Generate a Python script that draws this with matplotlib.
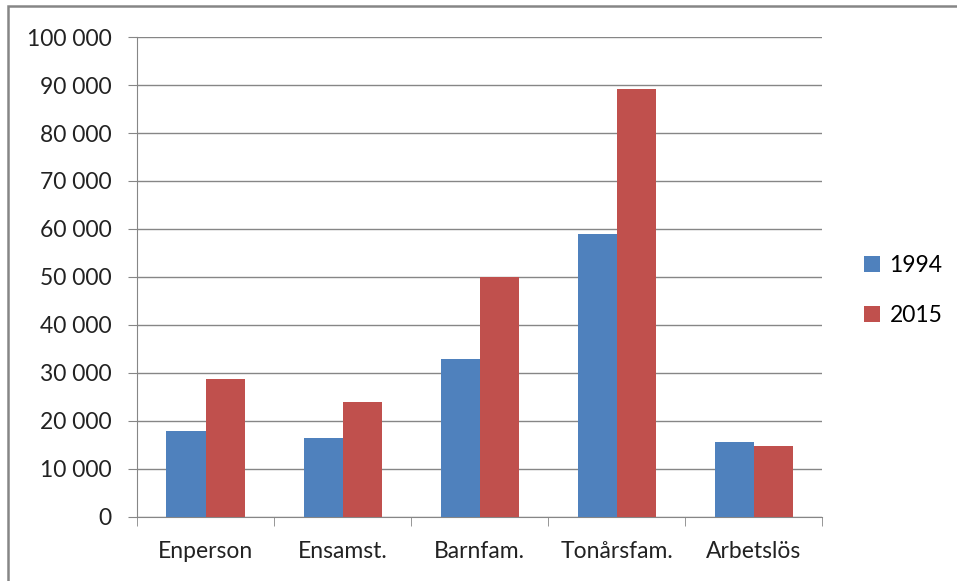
import matplotlib.pyplot as plt
import matplotlib.patches as mpatches
import numpy as np

categories = ["Enperson", "Ensamst.", "Barnfam.", "Tonårsfam.", "Arbetslös"]
values_1994 = [18000, 16500, 33000, 59000, 15600]
values_2015 = [28700, 24000, 50000, 89200, 14800]
yticks = [0, 10000, 20000, 30000, 40000, 50000, 60000, 70000, 80000, 90000, 100000]
ytick_labels = ["0", "10 000", "20 000", "30 000", "40 000", "50 000",
                "60 000", "70 000", "80 000", "90 000", "100 000"]

plt.rcParams['font.family'] = ['Lato', 'DejaVu Sans']

fig = plt.figure(figsize=(9.57, 5.81), dpi=100)
ax = fig.add_axes([0.1432, 0.1102, 0.7158, 0.8261])

x = np.arange(len(categories))
w = 0.285
ax.bar(x - w / 2, values_1994, w, color='#4F81BD', label='1994', zorder=3)
ax.bar(x + w / 2, values_2015, w, color='#C0504D', label='2015', zorder=3)

ax.set_xlim(-0.5, len(categories) - 0.5)
ax.set_ylim(0, 100000)
ax.set_yticks(yticks)
ax.set_yticklabels(ytick_labels)
ax.set_xticks(x)
ax.set_xticklabels(categories)
ax.set_xticks(np.arange(len(categories) + 1) - 0.5, minor=True)

ax.tick_params(axis='y', length=6.5, color='#868686', labelsize=16.5, pad=12, labelcolor='#222222')
ax.tick_params(axis='x', which='major', length=0, labelsize=16.5, pad=17, labelcolor='#222222')
ax.tick_params(axis='x', which='minor', length=6.5, color='#868686')

ax.grid(axis='y', color='#868686', linewidth=1, zorder=0)
for s in ['top', 'right']:
    ax.spines[s].set_visible(False)
for s in ['left', 'bottom']:
    ax.spines[s].set_color('#868686')

ax.legend(loc='center left', bbox_to_anchor=(0.903, 0.5), bbox_transform=fig.transFigure,
          frameon=False, fontsize=16.5, handlelength=0.7, handleheight=0.7,
          handletextpad=0.4, labelspacing=1.25, borderpad=0, borderaxespad=0)

fig.patches.append(mpatches.Rectangle((0.008, -0.1), 1.2, 1.09, transform=fig.transFigure,
                                      fill=False, edgecolor='#868686', linewidth=1.8))

fig.savefig('out.png', dpi=100)
